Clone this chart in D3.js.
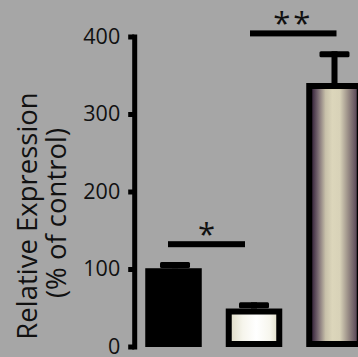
<!DOCTYPE html>
<html>
<head>
<meta charset="utf-8">
<script src="https://cdn.jsdelivr.net/npm/d3@7"></script>
<style>
  html, body { margin: 0; padding: 0; background: #a6a6a6; }
  svg { display: block; }
  text { font-family: "Open Sans", "Noto Sans", sans-serif; fill: #111; }
</style>
</head>
<body>
<svg id="chart" width="358" height="357"></svg>
<script>
// Groups, mean expression (% of control) and upper error (SEM)
const groups = ["Control", "Treatment A", "Treatment B"];
const means = [101, 49, 340];
const errors = [8, 8, 41];
const fills = ["solid", "cream", "bronze"];

// Y axis ticks
const yTicks = [0, 100, 200, 300, 400];

// Significance brackets: pair of groups, level (% of control), label
const sigFrom = [0, 1];
const sigTo = [1, 2];
const sigLevel = [132, 404];
const sigLabel = ["*", "**"];

const svg = d3.select("#chart");
const W = 358, H = 357;

const y = d3.scaleLinear().domain([0, 400]).range([346.5, 36.5]);
const x = d3.scaleBand().domain(groups).range([145.25, 362.75])
  .paddingInner(0.298).paddingOuter(0);

svg.append("rect").attr("width", W).attr("height", H).attr("fill", "#a6a6a6");

// Gradients for the outlined bars
const defs = svg.append("defs");
const cream = defs.append("linearGradient").attr("id", "cream")
  .attr("x1", "0%").attr("x2", "100%").attr("y1", "0%").attr("y2", "0%");
[["0%", "#e2dfcc"], ["25%", "#f6f5ec"], ["55%", "#ffffff"], ["85%", "#f7f6ee"], ["100%", "#e4e1cf"]]
  .forEach(([o, c]) => cream.append("stop").attr("offset", o).attr("stop-color", c));
const bronze = defs.append("linearGradient").attr("id", "bronze")
  .attr("x1", "0%").attr("x2", "100%").attr("y1", "0%").attr("y2", "0%");
[["0%", "#3a283e"], ["12%", "#74646e"], ["30%", "#c8c1aa"], ["45%", "#dcd6bb"], ["62%", "#d8d2b8"], ["80%", "#9c9088"], ["100%", "#5a4858"]]
  .forEach(([o, c]) => bronze.append("stop").attr("offset", o).attr("stop-color", c));

// Bars: black outer block, gradient inset for the outlined bars
const border = 6;
const bars = svg.append("g");
groups.forEach((g, i) => {
  const x0 = x(g), w = x.bandwidth();
  const yTop = y(means[i]), yBot = y(0) + 0.5;
  bars.append("rect").attr("x", x0).attr("y", yTop)
    .attr("width", w).attr("height", yBot - yTop).attr("fill", "#000");
  if (fills[i] !== "solid") {
    bars.append("rect").attr("x", x0 + border).attr("y", yTop + border)
      .attr("width", w - 2 * border).attr("height", yBot - yTop - 2 * border)
      .attr("fill", `url(#${fills[i]})`);
  }
});

// Error bars (upper only): stem and thick cap
const errG = svg.append("g");
groups.forEach((g, i) => {
  const cx = x(g) + x.bandwidth() / 2 + (i === 0 ? 1.5 : 0);
  const yTop = y(means[i] + errors[i]);
  errG.append("rect").attr("x", cx - 3).attr("y", yTop)
    .attr("width", 6).attr("height", y(means[i]) - yTop).attr("fill", "#000");
  errG.append("rect").attr("x", cx - 15).attr("y", yTop)
    .attr("width", 30).attr("height", 6).attr("rx", 1.5).attr("fill", "#000");
});

// Y axis: thick spine with short stubby ticks
const axisG = svg.append("g").attr("transform", "translate(134.2,0)")
  .call(d3.axisLeft(y).tickValues(yTicks).tickSize(6).tickPadding(8).tickSizeOuter(0));
axisG.select(".domain").attr("stroke", "#000").attr("stroke-width", 5)
  .attr("stroke-linecap", "square");
axisG.selectAll(".tick line").attr("stroke", "#000").attr("stroke-width", 5);
axisG.selectAll(".tick text").attr("font-size", 21.5)
  .attr("font-family", "'Open Sans', sans-serif").attr("fill", "#111");

// Y axis title (two lines)
const title = svg.append("text")
  .attr("transform", "translate(0,216) rotate(-90)")
  .attr("text-anchor", "middle").attr("font-size", 27.5);
title.append("tspan").attr("x", 0).attr("y", 37).text("Relative Expression");
title.append("tspan").attr("x", 3).attr("y", 66).text("(% of control)");

// Significance brackets
const sigG = svg.append("g");
sigFrom.forEach((a, k) => {
  const b = sigTo[k];
  const xa = x(groups[a]) + x.bandwidth() / 2 + (k === 0 ? -5.5 : -4);
  const xb = x(groups[b]) + x.bandwidth() / 2 + (k === 0 ? -9 : 2);
  const yl = y(sigLevel[k]);
  sigG.append("text").attr("x", (xa + xb) / 2).attr("y", yl + 1)
    .attr("text-anchor", "middle").attr("font-size", 31)
    .attr("letter-spacing", k === 1 ? 3 : 0)
    .text(sigLabel[k]);
  sigG.append("rect").attr("x", xa).attr("y", yl - 3)
    .attr("width", xb - xa).attr("height", 6).attr("fill", "#000");
});
</script>
</body>
</html>
